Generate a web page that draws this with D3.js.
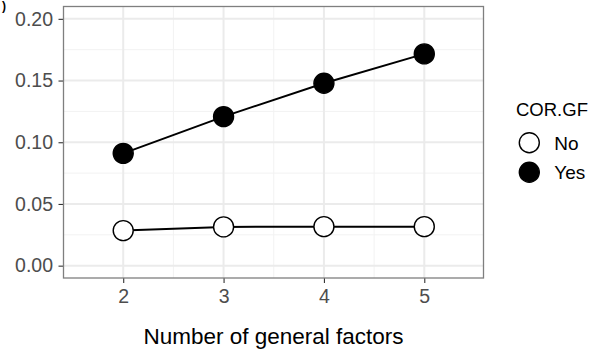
<!DOCTYPE html>
<html>
<head>
<meta charset="utf-8">
<script src="https://cdn.jsdelivr.net/npm/d3@7"></script>
<style>
  body { margin: 0; background: #fff; }
  svg text { font-family: "Liberation Sans", Arial, Helvetica, sans-serif; }
</style>
</head>
<body>
<div id="chart"></div>
<script>
// number of general factors
var factors = [2, 3, 4, 5];
// series values, one per COR.GF level
var seriesNames = ["No", "Yes"];
var valuesNo  = [0.0284, 0.0314, 0.0316, 0.0316];
var valuesYes = [0.0910, 0.1208, 0.1478, 0.1716];
var yTicks = [0.00, 0.05, 0.10, 0.15, 0.20];

var width = 603, height = 358;
var panel = {left: 63.5, right: 483.5, top: 6.5, bottom: 278};

var svg = d3.select("#chart").append("svg")
    .attr("width", width)
    .attr("height", height);

var x = d3.scaleLinear().domain([1.405, 5.59]).range([panel.left, panel.right]);
var y = d3.scaleLinear().domain([-0.01, 0.21]).range([panel.bottom, panel.top]);

// grid lines (minor first, then major)
var minorY = [0.025, 0.075, 0.125, 0.175];
var minorX = [2.5, 3.5, 4.5];
svg.append("g").selectAll("line").data(minorY).enter().append("line")
    .attr("x1", panel.left).attr("x2", panel.right)
    .attr("y1", function(d) { return y(d); }).attr("y2", function(d) { return y(d); })
    .attr("stroke", "#f2f2f2").attr("stroke-width", 1);
svg.append("g").selectAll("line").data(minorX).enter().append("line")
    .attr("y1", panel.top).attr("y2", panel.bottom)
    .attr("x1", function(d) { return x(d); }).attr("x2", function(d) { return x(d); })
    .attr("stroke", "#f2f2f2").attr("stroke-width", 1);
svg.append("g").selectAll("line").data(yTicks).enter().append("line")
    .attr("x1", panel.left).attr("x2", panel.right)
    .attr("y1", function(d) { return y(d); }).attr("y2", function(d) { return y(d); })
    .attr("stroke", "#ebebeb").attr("stroke-width", 2);
svg.append("g").selectAll("line").data(factors).enter().append("line")
    .attr("y1", panel.top).attr("y2", panel.bottom)
    .attr("x1", function(d) { return x(d); }).attr("x2", function(d) { return x(d); })
    .attr("stroke", "#ebebeb").attr("stroke-width", 2);

// axes
var yAxis = d3.axisLeft(y).tickValues(yTicks).tickFormat(d3.format(".2f")).tickSize(5).tickPadding(5.5);
var xAxis = d3.axisBottom(x).tickValues(factors).tickFormat(d3.format("d")).tickSize(5).tickPadding(6);

var gy = svg.append("g").attr("transform", "translate(" + panel.left + ",0)").call(yAxis);
var gx = svg.append("g").attr("transform", "translate(0," + panel.bottom + ")").call(xAxis);
[gy, gx].forEach(function(g) {
  g.select(".domain").remove();
  g.selectAll(".tick line").attr("stroke", "#333").attr("stroke-width", 1.1);
  g.selectAll(".tick text").attr("fill", "#4d4d4d").style("font-size", "19.5px");
});

// panel border
svg.append("rect")
    .attr("x", panel.left).attr("y", panel.top)
    .attr("width", panel.right - panel.left).attr("height", panel.bottom - panel.top)
    .attr("fill", "none").attr("stroke", "#7f7f7f").attr("stroke-width", 1.3);

// series
var series = [
  {name: seriesNames[0], values: valuesNo, fill: "#ffffff"},
  {name: seriesNames[1], values: valuesYes, fill: "#000000"}
];
var line = d3.line()
    .x(function(d, i) { return x(factors[i]); })
    .y(function(d) { return y(d); });

series.forEach(function(s) {
  svg.append("path")
      .datum(s.values)
      .attr("d", line)
      .attr("fill", "none")
      .attr("stroke", "#000")
      .attr("stroke-width", 2);
});
series.forEach(function(s) {
  svg.append("g").selectAll("circle").data(s.values).enter().append("circle")
      .attr("cx", function(d, i) { return x(factors[i]); })
      .attr("cy", function(d) { return y(d); })
      .attr("r", 10)
      .attr("fill", s.fill)
      .attr("stroke", "#000")
      .attr("stroke-width", 1.4);
});

// axis title
svg.append("text")
    .attr("x", (panel.left + panel.right) / 2)
    .attr("y", 344)
    .attr("text-anchor", "middle")
    .style("font-size", "22.5px")
    .attr("fill", "#000")
    .text("Number of general factors");

// legend
var legend = svg.append("g");
legend.append("text")
    .attr("x", 516).attr("y", 116)
    .style("font-size", "18.5px")
    .attr("fill", "#000")
    .text("COR.GF");
var item = legend.selectAll("g.item").data(series).enter().append("g")
    .attr("class", "item")
    .attr("transform", function(d, i) { return "translate(529.3," + (142.7 + i * 29.6) + ")"; });
item.append("circle")
    .attr("r", 10).attr("fill", function(d) { return d.fill; })
    .attr("stroke", "#000").attr("stroke-width", 1.4);
item.append("text")
    .attr("x", 25).attr("y", 6.8)
    .style("font-size", "19px")
    .attr("fill", "#000")
    .text(function(d) { return d.name; });

// panel tag from the original figure
svg.append("text")
    .attr("x", 2).attr("y", 10)
    .style("font-size", "12px")
    .style("font-weight", "bold")
    .attr("fill", "#000")
    .text(")");
</script>
</body>
</html>
